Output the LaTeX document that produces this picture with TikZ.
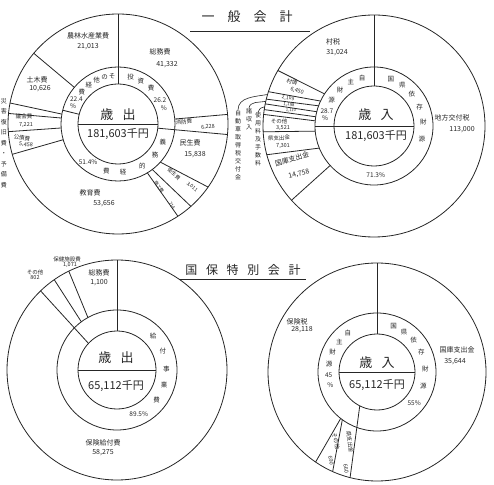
\documentclass[tikz,border=0pt]{standalone}
\usepackage{fontspec}
\setmainfont{Noto Sans CJK JP}
\begin{document}
\begin{tikzpicture}[x=1pt,y=1pt,line width=0.8pt,color=black!85,
  seglbl/.style={font=\fontsize{7}{8}\selectfont,inner sep=0pt},
  smalllbl/.style={font=\fontsize{5.5}{6}\selectfont,inner sep=0pt},
  ringchr/.style={font=\fontsize{6.5}{7}\selectfont,inner sep=0pt},
  vlbl/.style={font=\fontsize{6}{8}\selectfont,inner sep=0pt,align=center},
  centerlbl/.style={font=\fontsize{13}{13}\selectfont,inner sep=0pt},
  totallbl/.style={font=\fontsize{11}{11}\selectfont,inner sep=0pt},
  titlelbl/.style={font=\fontsize{13}{13}\selectfont,inner sep=0pt}]
\useasboundingbox (0,0) rectangle (494,484);

% chart centres
\coordinate (A) at (118,360);
\coordinate (B) at (374,358);
\coordinate (C) at (117,114);
\coordinate (D) at (377,112);

% titles
\node[titlelbl] (ttlgen) at (247,467) {一\hspace{1em}般\hspace{1em}会\hspace{1em}計};
\draw (190,453) -- (310,453);
\node[titlelbl,font=\fontsize{12}{12}\selectfont] (ttlnhi) at (243,214) {国\hspace{0.72em}保\hspace{0.72em}特\hspace{0.72em}別\hspace{0.72em}会\hspace{0.72em}計};
\draw (180,205) -- (306,205);

% general account: expenditure
\draw (A) circle[radius=110];
\draw (A) circle[radius=57];
\draw (A) circle[radius=40];
\draw ([shift={(180:40)}]A) -- ([shift={(0:40)}]A);
\draw ([shift={(90:40)}]A) -- ([shift={(90:110)}]A);
\draw ([shift={(-6:40)}]A) -- ([shift={(-5.5:110)}]A);
\draw ([shift={(166:40)}]A) -- ([shift={(166:57)}]A);
\foreach \m/\o in {5/5,140/140,170/169,174/174.5,184/184,196/196,301/303,307/311.5,318/325}
  \draw ([shift={(\m:57)}]A) -- ([shift={(\o:110)}]A);

\node[centerlbl] (Ahead) at (118,369) {歳\hspace{0.7em}出};
\node[totallbl] (Atotal) at (118,350) {181,603千円};

\node[seglbl] (Aagri) at (88,448) {農林水産業費};
\node[seglbl] (Aagriv) at (88,437) {21,013};
\node[seglbl] (Agen) at (160,432) {総務費};
\node[seglbl] (Agenv) at (167,419) {41,332};
\node[smalllbl,rotate=5] (Afire) at (184,362) {消防費};
\node[smalllbl,rotate=5] (Afirev) at (208,357) {6,228};
\node[seglbl] (Awel) at (190,341) {民生費};
\node[seglbl] (Awelv) at (195,329) {15,838};
\node[smalllbl,font=\fontsize{5}{5}\selectfont,rotate=-40] (Ahyg) at (174,310) {衛生費};
\node[smalllbl,font=\fontsize{5}{5}\selectfont,rotate=-40] (Ahygv) at (192,297) {3,011};
\node[smalllbl,font=\fontsize{4.5}{5}\selectfont,rotate=-56] (Acom) at (159,297) {商工費};
\node[smalllbl,font=\fontsize{4.5}{5}\selectfont,rotate=-56] (Acomv) at (172,278) {714};
\node[seglbl] (Aedu) at (90,291) {教育費};
\node[seglbl] (Aeduv) at (104,280) {53,656};
\node[smalllbl,rotate=-8] (Adebt) at (22,346) {公債費};
\node[smalllbl,rotate=-8] (Adebtv) at (26,339) {5,458};
\node[smalllbl] (Aass) at (24,368) {議会費};
\node[smalllbl] (Aassv) at (26,359) {7,221};
\node[seglbl] (Acivil) at (37,404) {土木費};
\node[seglbl] (Acivilv) at (40,395) {10,626};
\node[vlbl,font=\fontsize{6}{10.5}\selectfont] (Aside) at (4,341) {災\\害\\復\\旧\\費\\・\\予\\備\\費};

\foreach \a/\c in {97/そ,106/の,116/他,127/経,138/費,149/22.4,158/\%}
  \node[ringchr] (Ao\a) at ([shift={(\a:48.5)}]A) {\c};
\foreach \a/\c in {75/投,62/資,47/費,30/26.2,19/\%}
  \node[ringchr] (Ai\a) at ([shift={(\a:48.5)}]A) {\c};
\foreach \a/\c in {-22/義,-40/務,-60/的,-84/経,-104/費,-128/51.4\%}
  \node[ringchr] (Ad\a) at ([shift={(\a:48.5)}]A) {\c};

% general account: revenue
\draw (B) circle[radius=111];
\draw (B) circle[radius=59];
\draw (B) circle[radius=40];
\draw ([shift={(180:59)}]B) -- ([shift={(0:40)}]B);
\draw ([shift={(90:40)}]B) -- ([shift={(90:111)}]B);
\foreach \m/\o in {147/150,155/162,160/166,166/168.5,171/171.5,175/174,185/183,202/195,222/222}
  \draw ([shift={(\m:59)}]B) -- ([shift={(\o:111)}]B);

\node[centerlbl] (Bhead) at (376,369) {歳\hspace{0.7em}入};
\node[totallbl] (Btotal) at (376,348) {181,603千円};

\node[seglbl] (Btax) at (333,442) {村税};
\node[seglbl] (Btaxv) at (337,431) {31,024};
\node[seglbl] (Blat) at (452,366) {地方交付税};
\node[seglbl] (Blatv) at (462,354) {113,000};
\node[seglbl,rotate=15] (Bnat) at (292,325) {国庫支出金};
\node[seglbl,rotate=15] (Bnatv) at (299,310) {14,758};
\node[smalllbl,rotate=4] (Bpref) at (279,346) {県支出金};
\node[smalllbl,rotate=4] (Bprefv) at (283,338) {7,301};
\node[smalllbl] (Both) at (279,362.5) {その他};
\node[smalllbl] (Bothv) at (283,355.5) {3,521};
\node[smalllbl,rotate=-20] (Bbond) at (292,402) {村債};
\node[smalllbl,rotate=-20] (Bbondv) at (297,393) {6,450};
\node[font=\fontsize{5}{5}\selectfont,inner sep=0pt,rotate=-8] (Bs1) at (288,385.5) {2,109};
\node[font=\fontsize{4.5}{5}\selectfont,inner sep=0pt,rotate=-6] (Bs2) at (289,379) {1,198};
\node[font=\fontsize{4}{4}\selectfont,inner sep=0pt,rotate=-4] (Bs3) at (291,373.5) {1,110};

\node[vlbl,anchor=north] (Bcar) at (238,374) {自\\動\\車\\取\\得\\税\\交\\付\\金};
\node[vlbl,anchor=north] (Bmisc) at (249,376) {諸\\収\\入};
\node[vlbl,anchor=north] (Bfee) at (258,372) {使\\用\\料\\及\\手\\数\\料};
\coordinate (Bl1) at ([shift={(163.5:111)}]B);
\coordinate (Bl2) at ([shift={(167.2:111)}]B);
\coordinate (Bl3) at ([shift={(170:111)}]B);
\draw[line width=0.6pt] (Bcar.north) to[out=90,in=190] (Bl1);
\draw[line width=0.6pt] (Bmisc.north) to[out=80,in=190] (Bl2);
\draw[line width=0.6pt] (Bfee.north) to[out=80,in=190] (Bl3);

\foreach \a/\c in {104/自,118/主,133/財,149/源,162/28.7,171/\%}
  \node[ringchr] (Bo\a) at ([shift={(\a:49.5)}]B) {\c};
\foreach \a/\c in {70/国,55/県,40/依,23/存,5/財,-15/源,-88/71.3\%}
  \node[ringchr] (Bi\a) at ([shift={(\a:49.5)}]B) {\c};

% national health insurance: expenditure
\draw (C) circle[radius=110];
\draw (C) circle[radius=60];
\draw (C) circle[radius=39];
\draw ([shift={(180:39)}]C) -- ([shift={(0:39)}]C);
\draw ([shift={(90:39)}]C) -- ([shift={(90:110)}]C);
\draw ([shift={(137:39)}]C) -- ([shift={(134:110)}]C);
\foreach \m/\o in {119/116,126.5/124.8}
  \draw ([shift={(\m:60)}]C) -- ([shift={(\o:110)}]C);

\node[centerlbl] (Chead) at (116,126) {歳\hspace{0.7em}出};
\node[totallbl] (Ctotal) at (116,98) {65,112千円};

\node[seglbl] (Cgen) at (99,211) {総務費};
\node[seglbl] (Cgenv) at (99,201) {1,100};
\node[smalllbl] (Chlth) at (67,225) {保健施設費};
\node[smalllbl] (Chlthv) at (70,219) {1,071};
\node[smalllbl] (Coth) at (35,212) {その他};
\node[smalllbl] (Cothv) at (35,206) {802};
\node[seglbl] (Cben) at (103,41) {保険給付費};
\node[seglbl] (Cbenv) at (103,31) {58,275};

\foreach \a/\c in {43/給,22/付,1/事,-18/業,-37/費,-64/89.5\%}
  \node[ringchr] (Ci\a) at ([shift={(\a:49.5)}]C) {\c};

% national health insurance: revenue
\draw (D) circle[radius=109];
\draw (D) circle[radius=59];
\draw (D) circle[radius=38];
\draw ([shift={(180:38)}]D) -- ([shift={(0:38)}]D);
\draw ([shift={(90:38)}]D) -- ([shift={(90:109)}]D);
\draw ([shift={(243:38)}]D) -- ([shift={(255.7:109)}]D);
\foreach \m/\o in {232/235.7,234/246}
  \draw ([shift={(\m:59)}]D) -- ([shift={(\o:109)}]D);

\node[centerlbl] (Dhead) at (377,121) {歳\hspace{0.7em}入};
\node[totallbl] (Dtotal) at (377,99) {65,112千円};

\node[seglbl] (Dins) at (297,162) {保険税};
\node[seglbl] (Dinsv) at (302,154) {28,118};
\node[seglbl] (Dnat) at (457,134) {国庫支出金};
\node[seglbl] (Dnatv) at (455,122) {35,644};
\node[smalllbl,rotate=-78] (Doth) at (336,43) {その他};
\node[smalllbl,rotate=-78] (Dothv) at (331,23) {690};
\node[smalllbl,rotate=-82] (Dpref) at (350,42) {県支出金};
\node[smalllbl,rotate=-82] (Dprefv) at (346,15) {660};

\foreach \a/\c in {127/自,141/主,156/財,171/源,184/45,196/\%}
  \node[ringchr] (Do\a) at ([shift={(\a:48.5)}]D) {\c};
\foreach \a/\c in {70/国,56/県,41/依,24/存,4/財,-17/源,-40/55\%}
  \node[ringchr] (Di\a) at ([shift={(\a:48.5)}]D) {\c};
\end{tikzpicture}
\end{document}
